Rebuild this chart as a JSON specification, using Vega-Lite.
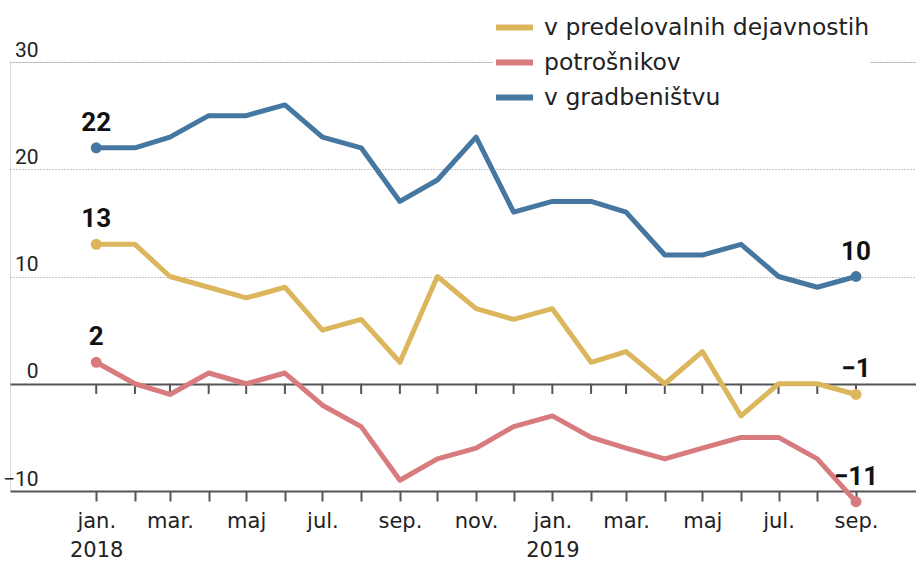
{
  "$schema": "https://vega.github.io/schema/vega-lite/v6.json",
  "width": 906,
  "height": 429,
  "autosize": "none",
  "padding": {"left": 10, "top": 62, "right": 0, "bottom": 71},
  "background": "white",
  "data": {
    "values": [
      {"date": "2018-01-01", "series": "v gradbeništvu", "value": 22},
      {"date": "2018-02-01", "series": "v gradbeništvu", "value": 22},
      {"date": "2018-03-01", "series": "v gradbeništvu", "value": 23},
      {"date": "2018-04-01", "series": "v gradbeništvu", "value": 25},
      {"date": "2018-05-01", "series": "v gradbeništvu", "value": 25},
      {"date": "2018-06-01", "series": "v gradbeništvu", "value": 26},
      {"date": "2018-07-01", "series": "v gradbeništvu", "value": 23},
      {"date": "2018-08-01", "series": "v gradbeništvu", "value": 22},
      {"date": "2018-09-01", "series": "v gradbeništvu", "value": 17},
      {"date": "2018-10-01", "series": "v gradbeništvu", "value": 19},
      {"date": "2018-11-01", "series": "v gradbeništvu", "value": 23},
      {"date": "2018-12-01", "series": "v gradbeništvu", "value": 16},
      {"date": "2019-01-01", "series": "v gradbeništvu", "value": 17},
      {"date": "2019-02-01", "series": "v gradbeništvu", "value": 17},
      {"date": "2019-03-01", "series": "v gradbeništvu", "value": 16},
      {"date": "2019-04-01", "series": "v gradbeništvu", "value": 12},
      {"date": "2019-05-01", "series": "v gradbeništvu", "value": 12},
      {"date": "2019-06-01", "series": "v gradbeništvu", "value": 13},
      {"date": "2019-07-01", "series": "v gradbeništvu", "value": 10},
      {"date": "2019-08-01", "series": "v gradbeništvu", "value": 9},
      {"date": "2019-09-01", "series": "v gradbeništvu", "value": 10},
      {"date": "2018-01-01", "series": "v predelovalnih dejavnostih", "value": 13},
      {"date": "2018-02-01", "series": "v predelovalnih dejavnostih", "value": 13},
      {"date": "2018-03-01", "series": "v predelovalnih dejavnostih", "value": 10},
      {"date": "2018-04-01", "series": "v predelovalnih dejavnostih", "value": 9},
      {"date": "2018-05-01", "series": "v predelovalnih dejavnostih", "value": 8},
      {"date": "2018-06-01", "series": "v predelovalnih dejavnostih", "value": 9},
      {"date": "2018-07-01", "series": "v predelovalnih dejavnostih", "value": 5},
      {"date": "2018-08-01", "series": "v predelovalnih dejavnostih", "value": 6},
      {"date": "2018-09-01", "series": "v predelovalnih dejavnostih", "value": 2},
      {"date": "2018-10-01", "series": "v predelovalnih dejavnostih", "value": 10},
      {"date": "2018-11-01", "series": "v predelovalnih dejavnostih", "value": 7},
      {"date": "2018-12-01", "series": "v predelovalnih dejavnostih", "value": 6},
      {"date": "2019-01-01", "series": "v predelovalnih dejavnostih", "value": 7},
      {"date": "2019-02-01", "series": "v predelovalnih dejavnostih", "value": 2},
      {"date": "2019-03-01", "series": "v predelovalnih dejavnostih", "value": 3},
      {"date": "2019-04-01", "series": "v predelovalnih dejavnostih", "value": 0},
      {"date": "2019-05-01", "series": "v predelovalnih dejavnostih", "value": 3},
      {"date": "2019-06-01", "series": "v predelovalnih dejavnostih", "value": -3},
      {"date": "2019-07-01", "series": "v predelovalnih dejavnostih", "value": 0},
      {"date": "2019-08-01", "series": "v predelovalnih dejavnostih", "value": 0},
      {"date": "2019-09-01", "series": "v predelovalnih dejavnostih", "value": -1},
      {"date": "2018-01-01", "series": "potrošnikov", "value": 2},
      {"date": "2018-02-01", "series": "potrošnikov", "value": 0},
      {"date": "2018-03-01", "series": "potrošnikov", "value": -1},
      {"date": "2018-04-01", "series": "potrošnikov", "value": 1},
      {"date": "2018-05-01", "series": "potrošnikov", "value": 0},
      {"date": "2018-06-01", "series": "potrošnikov", "value": 1},
      {"date": "2018-07-01", "series": "potrošnikov", "value": -2},
      {"date": "2018-08-01", "series": "potrošnikov", "value": -4},
      {"date": "2018-09-01", "series": "potrošnikov", "value": -9},
      {"date": "2018-10-01", "series": "potrošnikov", "value": -7},
      {"date": "2018-11-01", "series": "potrošnikov", "value": -6},
      {"date": "2018-12-01", "series": "potrošnikov", "value": -4},
      {"date": "2019-01-01", "series": "potrošnikov", "value": -3},
      {"date": "2019-02-01", "series": "potrošnikov", "value": -5},
      {"date": "2019-03-01", "series": "potrošnikov", "value": -6},
      {"date": "2019-04-01", "series": "potrošnikov", "value": -7},
      {"date": "2019-05-01", "series": "potrošnikov", "value": -6},
      {"date": "2019-06-01", "series": "potrošnikov", "value": -5},
      {"date": "2019-07-01", "series": "potrošnikov", "value": -5},
      {"date": "2019-08-01", "series": "potrošnikov", "value": -7},
      {"date": "2019-09-01", "series": "potrošnikov", "value": -11}
    ]
  },
  "encoding": {
    "x": {
      "field": "date",
      "type": "temporal",
      "title": null,
      "scale": {
        "type": "utc",
        "domain": [
          {"year": 2017, "month": 10, "date": 24, "utc": true},
          {"year": 2019, "month": 10, "date": 19, "utc": true}
        ],
        "nice": false
      },
      "axis": {
        "values": [
          {"year": 2018, "month": 1, "date": 1, "utc": true},
          {"year": 2018, "month": 2, "date": 1, "utc": true},
          {"year": 2018, "month": 3, "date": 1, "utc": true},
          {"year": 2018, "month": 4, "date": 1, "utc": true},
          {"year": 2018, "month": 5, "date": 1, "utc": true},
          {"year": 2018, "month": 6, "date": 1, "utc": true},
          {"year": 2018, "month": 7, "date": 1, "utc": true},
          {"year": 2018, "month": 8, "date": 1, "utc": true},
          {"year": 2018, "month": 9, "date": 1, "utc": true},
          {"year": 2018, "month": 10, "date": 1, "utc": true},
          {"year": 2018, "month": 11, "date": 1, "utc": true},
          {"year": 2018, "month": 12, "date": 1, "utc": true},
          {"year": 2019, "month": 1, "date": 1, "utc": true},
          {"year": 2019, "month": 2, "date": 1, "utc": true},
          {"year": 2019, "month": 3, "date": 1, "utc": true},
          {"year": 2019, "month": 4, "date": 1, "utc": true},
          {"year": 2019, "month": 5, "date": 1, "utc": true},
          {"year": 2019, "month": 6, "date": 1, "utc": true},
          {"year": 2019, "month": 7, "date": 1, "utc": true},
          {"year": 2019, "month": 8, "date": 1, "utc": true},
          {"year": 2019, "month": 9, "date": 1, "utc": true}
        ],
        "labelExpr": "utcmonth(datum.value) % 2 != 0 ? '' : (utcmonth(datum.value) == 0 ? ['jan.', '' + utcyear(datum.value)] : ['jan.','feb.','mar.','apr.','maj','jun.','jul.','avg.','sep.','okt.','nov.','dec.'][utcmonth(datum.value)])",
        "grid": false,
        "domain": false,
        "ticks": true,
        "tickSize": 10,
        "tickWidth": 2,
        "tickColor": "#555555",
        "labelFont": "DejaVu Sans",
        "labelFontSize": 21,
        "labelColor": "#222222",
        "labelPadding": 9,
        "labelLineHeight": 29,
        "labelOverlap": false,
        "labelBound": false,
        "labelFlush": false
      }
    },
    "y": {
      "field": "value",
      "type": "quantitative",
      "title": null,
      "scale": {"domain": [-10, 30], "nice": false, "zero": false},
      "axis": {
        "values": [-10, 0, 10, 20, 30],
        "domain": false,
        "ticks": false,
        "grid": true,
        "gridDash": {"condition": {"test": "datum.value <= 0", "value": []}, "value": [1, 2]},
        "gridColor": {"condition": {"test": "datum.value <= 0", "value": "#555555"}, "value": "#8a8a8a"},
        "gridWidth": {"condition": {"test": "datum.value <= 0", "value": 2}, "value": 1},
        "labelAlign": "right",
        "labelBaseline": "alphabetic",
        "labelOffset": -6,
        "labelPadding": -28,
        "labelFont": "Roboto",
        "labelFontSize": 21,
        "labelColor": "#222222"
      }
    }
  },
  "layer": [
    {
      "transform": [{"filter": "datum.series == 'v gradbeništvu'"}],
      "mark": {"type": "rule", "color": "#555555", "strokeWidth": 2},
      "encoding": {
        "y": {"datum": 0},
        "y2": {"datum": -0.95}
      }
    },
    {
      "mark": {"type": "line", "strokeWidth": 5, "strokeJoin": "round", "strokeCap": "round"},
      "encoding": {
        "color": {
          "field": "series",
          "type": "nominal",
          "scale": {
            "domain": ["v predelovalnih dejavnostih", "potrošnikov", "v gradbeništvu"],
            "range": ["#dcb65c", "#d87b7e", "#4677a0"]
          },
          "legend": {
            "title": null,
            "orient": "none",
            "legendX": 483,
            "legendY": -56,
            "direction": "vertical",
            "padding": 0,
            "fillColor": "white",
            "symbolType": "stroke",
            "symbolSize": 1369,
            "symbolStrokeWidth": 6,
            "labelOffset": 8,
            "rowPadding": 1,
            "labelFont": "DejaVu Sans",
            "labelFontSize": 23.5,
            "labelColor": "#222222",
            "labelLimit": 500
          }
        }
      }
    },
    {
      "transform": [{"filter": "(utcyear(datum.date) == 2018 && utcmonth(datum.date) == 0) || (utcyear(datum.date) == 2019 && utcmonth(datum.date) == 8)"}],
      "mark": {"type": "point", "filled": true, "size": 120, "opacity": 1},
      "encoding": {
        "color": {"field": "series", "type": "nominal", "legend": null}
      }
    },
    {
      "transform": [{"filter": "(utcyear(datum.date) == 2018 && utcmonth(datum.date) == 0) || (utcyear(datum.date) == 2019 && utcmonth(datum.date) == 8)"}],
      "mark": {
        "type": "text",
        "dy": -17,
        "baseline": "alphabetic",
        "align": "center",
        "font": "Roboto",
        "fontWeight": "bold",
        "fontSize": 26,
        "color": "#111111"
      },
      "encoding": {
        "text": {"field": "value", "type": "quantitative", "format": "d"}
      }
    }
  ]
}
